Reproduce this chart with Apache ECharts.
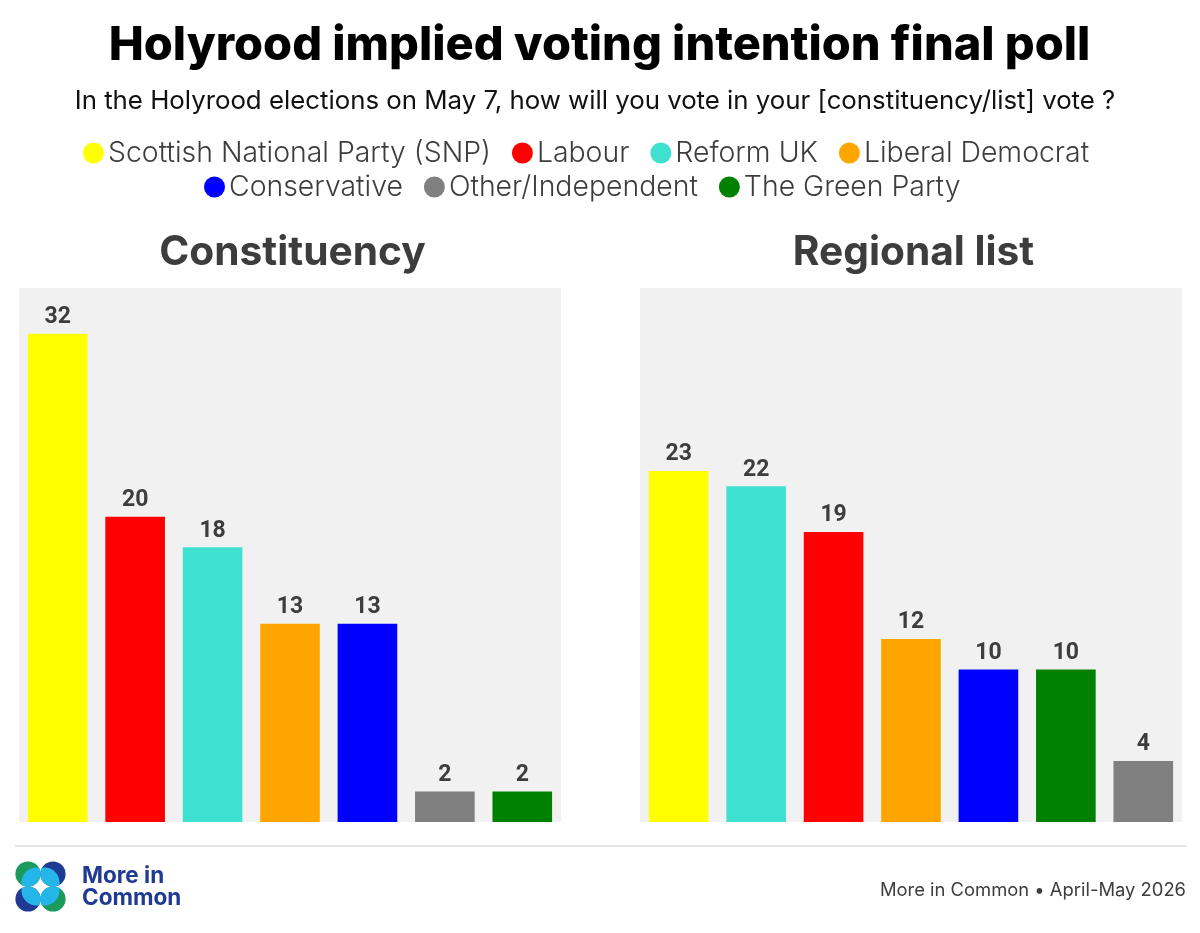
<!DOCTYPE html>
<html><head><meta charset="utf-8">
<style>html,body{margin:0;padding:0;background:#fff}#c{width:1200px;height:933px}</style>
<script src="https://cdn.jsdelivr.net/npm/echarts@6/dist/echarts.min.js"></script>
</head><body><div id="c"></div>
<script>
const parties = ['Scottish National Party (SNP)','Labour','Reform UK','Liberal Democrat','Conservative','Other/Independent','The Green Party'];
const colors = ['#ffff00','#ff0000','#40e0d0','#ffa500','#0000ff','#808080','#008000'];
const constituencyOrder = ['Scottish National Party (SNP)','Labour','Reform UK','Liberal Democrat','Conservative','Other/Independent','The Green Party'];
const constituencyValues = [32,20,18,13,13,2,2];
const listOrder = ['Scottish National Party (SNP)','Reform UK','Labour','Liberal Democrat','Conservative','The Green Party','Other/Independent'];
const listValues = [23,22,19,12,10,10,4];
const legendRow1 = parties.slice(0,4);
const legendRow2 = parties.slice(4);
const FONT = 'Inter';
const DARK = '#3d3d3d';

function seriesFor(order, values, idx){
  return parties.map((p,i)=>({
    type:'bar', name:p, stack:'s'+idx, xAxisIndex:idx, yAxisIndex:idx,
    barWidth:'77%', itemStyle:{color:colors[i]},
    label:{show:true,position:'top',distance:5,color:DARK,fontFamily:'Roboto',fontWeight:'bold',fontSize:23,
      formatter:o=>o.value==null?'':o.value},
    data:order.map((o,k)=>o===p?values[k]:null)
  }));
}
const mkLegend=(data,left,top)=>({data,top,left,padding:0,icon:'circle',itemWidth:21,itemHeight:21,itemGap:21,
  selectedMode:false,textStyle:{fontFamily:FONT,fontSize:28.4,fontWeight:300,color:DARK,padding:[0,0,0,-1]}});
const mkTitle=(text,x,y,size,weight,color,align)=>({text,left:x,top:y,padding:0,textAlign:align||'center',
  textStyle:{fontFamily:FONT,fontSize:size,fontWeight:weight,color}});
const cat=(order,i)=>({type:'category',gridIndex:i,data:order,axisLabel:{show:false},axisTick:{show:false},axisLine:{show:false}});
const val=i=>({type:'value',gridIndex:i,min:0,max:35,axisLabel:{show:false},axisTick:{show:false},axisLine:{show:false},splitLine:{show:false}});
const R=12.6;
const dot=(cx,cy,fill)=>({type:'circle',shape:{cx,cy,r:R},style:{fill}});
// logo lens: intersection of the logo circle with a larger circle offset towards the mark's middle
function lens(cx,cy,sx,sy){
  const ox=cx+sx*8.5, oy=cy+sy*8.5, r2=15, pts=[];
  for(let a=0;a<360;a+=3){const t=a*Math.PI/180;
    const p=[cx+R*Math.cos(t),cy+R*Math.sin(t)];
    if(Math.hypot(p[0]-ox,p[1]-oy)<=r2)pts.push(p);
    const q=[ox+r2*Math.cos(t),oy+r2*Math.sin(t)];
    if(Math.hypot(q[0]-cx,q[1]-cy)<=R)pts.push(q);
  }
  const mx=cx+sx*5,my=cy+sy*5;
  pts.sort((a,b)=>Math.atan2(a[1]-my,a[0]-mx)-Math.atan2(b[1]-my,b[0]-mx));
  return {type:'polygon',shape:{points:pts},style:{fill:'#24b6e8'}};
}
const chart=echarts.init(document.getElementById('c'),null,{renderer:'canvas'});
chart.setOption({
  animation:false,backgroundColor:'#fff',
  title:[
    mkTitle('Holyrood implied voting intention final poll',599.5,22,46.9,'800','#000'),
    mkTitle('In the Holyrood elections on May 7, how will you vote in your [constituency/list] vote ?',595,88,25.8,'normal','#111'),
    mkTitle('Constituency',292.5,232,40.7,'bold',DARK),
    mkTitle('Regional list',913.5,232,40.7,'bold',DARK),
    mkTitle('More in Common • April-May 2026',1186,881,18.4,'normal',DARK,'right')
  ],
  legend:[mkLegend(legendRow1,83,139),mkLegend(legendRow2,204,173)],
  grid:[
    {left:19,top:288,width:542,height:534,show:true,backgroundColor:'#f1f1f1',borderWidth:0},
    {left:640,top:288,width:542,height:534,show:true,backgroundColor:'#f1f1f1',borderWidth:0}
  ],
  xAxis:[cat(constituencyOrder,0),cat(listOrder,1)],
  yAxis:[val(0),val(1)],
  series:[...seriesFor(constituencyOrder,constituencyValues,0),...seriesFor(listOrder,listValues,1)],
  graphic:[
    {type:'line',shape:{x1:15,y1:846,x2:1187,y2:846},style:{stroke:'#dcdcdc',lineWidth:1.5}},
    dot(28,874,'#1a9a5c'),dot(53,874,'#1f3a93'),dot(28,899,'#1f3a93'),dot(53,899,'#1a9a5c'),
    lens(28,874,1,1),lens(53,874,-1,1),lens(28,899,1,-1),lens(53,899,-1,-1),
    {type:'text',left:82,top:865,style:{text:'More in\nCommon',fill:'#1f3a93',font:'bold 22.5px Inter',lineHeight:22}}
  ]
});
</script></body></html>
